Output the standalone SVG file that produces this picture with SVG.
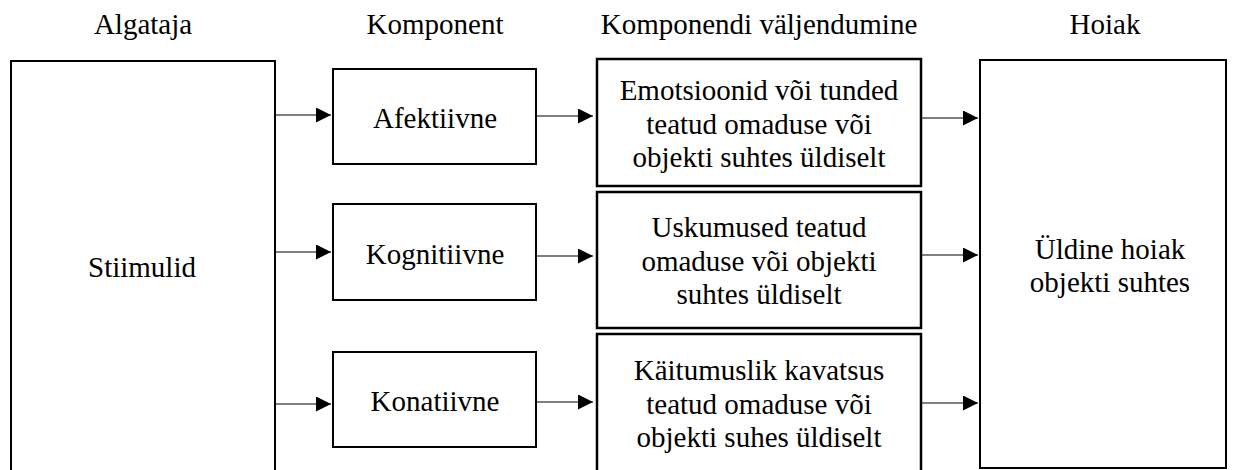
<svg xmlns="http://www.w3.org/2000/svg" width="1236" height="470" viewBox="0 0 1236 470">
<style>
text{font-family:"Liberation Serif","Times New Roman",serif;font-size:29px;fill:#000;text-anchor:middle}
.box{fill:#fff;stroke:#000;stroke-width:2}
.mbox{fill:#fff;stroke:#000;stroke-width:2.5}
.arr{stroke:#000;stroke-width:1.2;fill:none;marker-end:url(#ah)}
</style>
<defs>
<marker id="ah" markerUnits="userSpaceOnUse" markerWidth="16" markerHeight="16" refX="15" refY="7.5" orient="auto">
<path d="M0,0 L15,7.5 L0,15 Z" fill="#000"/>
</marker>
</defs>
<rect width="1236" height="470" fill="#fff"/>
<g id="headers">
<text x="143" y="34">Algataja</text>
<text x="435" y="34">Komponent</text>
<text x="759" y="34">Komponendi väljendumine</text>
<text x="1105" y="34">Hoiak</text>
</g>
<g id="stiimulid">
<rect class="box" x="11" y="61" width="264" height="420"/>
<text x="142" y="277">Stiimulid</text>
</g>
<g id="afektiivne">
<rect class="box" x="333" y="69" width="203" height="95"/>
<text x="435" y="128">Afektiivne</text>
</g>
<g id="kognitiivne">
<rect class="box" x="333" y="204" width="203" height="96"/>
<text x="435" y="264">Kognitiivne</text>
</g>
<g id="konatiivne">
<rect class="box" x="333" y="352" width="203" height="95"/>
<text x="435" y="411">Konatiivne</text>
</g>
<g id="emotsioonid">
<rect class="mbox" x="597" y="59" width="324" height="127"/>
<text x="759" y="100">Emotsioonid või tunded</text>
<text x="759" y="134">teatud omaduse või</text>
<text x="759" y="167">objekti suhtes üldiselt</text>
</g>
<g id="uskumused">
<rect class="mbox" x="597" y="192" width="324" height="136"/>
<text x="759" y="237">Uskumused teatud</text>
<text x="759" y="271">omaduse või objekti</text>
<text x="759" y="304">suhtes üldiselt</text>
</g>
<g id="kaitumuslik">
<rect class="mbox" x="597" y="334" width="324" height="145"/>
<text x="759" y="380">Käitumuslik kavatsus</text>
<text x="759" y="414">teatud omaduse või</text>
<text x="759" y="447">objekti suhes üldiselt</text>
</g>
<g id="hoiak">
<rect class="box" x="980" y="60" width="246" height="408"/>
<text x="1110" y="259">Üldine hoiak</text>
<text x="1110" y="292">objekti suhtes</text>
</g>
<g id="connectors">
<line class="arr" x1="276" y1="115" x2="331" y2="115"/>
<line class="arr" x1="276" y1="252" x2="331" y2="252"/>
<line class="arr" x1="276" y1="404" x2="331" y2="404"/>
<line class="arr" x1="537" y1="116" x2="593" y2="116"/>
<line class="arr" x1="537" y1="256" x2="593" y2="256"/>
<line class="arr" x1="537" y1="402" x2="593" y2="402"/>
<line class="arr" x1="922" y1="118" x2="978" y2="118"/>
<line class="arr" x1="922" y1="255" x2="978" y2="255"/>
<line class="arr" x1="922" y1="403" x2="978" y2="403"/>
</g>
</svg>
